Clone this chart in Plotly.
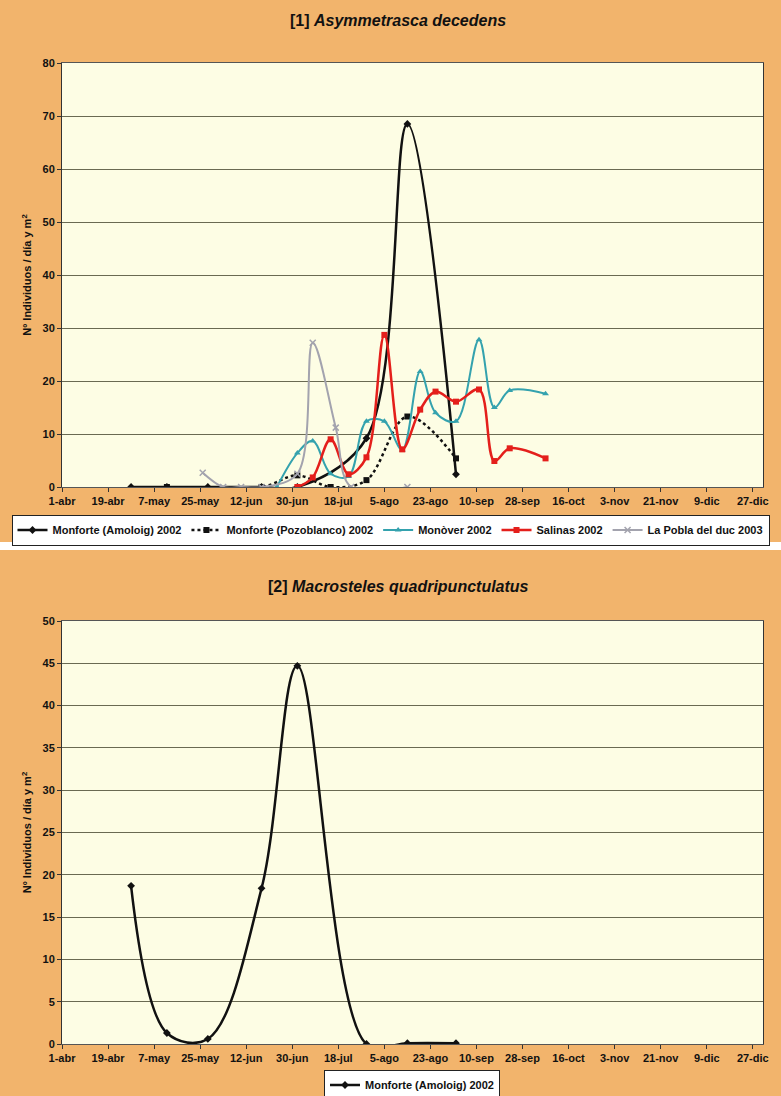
import plotly.graph_objects as go

# ---------------- data ----------------
tick_dates = ["2002-04-01", "2002-04-19", "2002-05-07", "2002-05-25", "2002-06-12", "2002-06-30",
              "2002-07-18", "2002-08-05", "2002-08-23", "2002-09-10", "2002-09-28", "2002-10-16",
              "2002-11-03", "2002-11-21", "2002-12-09", "2002-12-27"]
tick_labels = ["1-abr", "19-abr", "7-may", "25-may", "12-jun", "30-jun", "18-jul", "5-ago",
               "23-ago", "10-sep", "28-sep", "16-oct", "3-nov", "21-nov", "9-dic", "27-dic"]

# Panel 1: Asymmetrasca decedens
amoloig_dates = ["2002-04-28", "2002-05-12", "2002-05-28", "2002-06-18", "2002-07-02",
                 "2002-07-29", "2002-08-14", "2002-09-02"]
amoloig_asym = [0, 0, 0, 0, 0, 9.2, 68.5, 2.4]

pozo_dates = ["2002-05-12", "2002-06-18", "2002-07-02", "2002-07-15", "2002-07-29",
              "2002-08-14", "2002-09-02"]
pozo_asym = [0, 0, 2.2, 0, 1.3, 13.3, 5.4]

monover_dates = ["2002-06-24", "2002-07-02", "2002-07-08", "2002-07-15", "2002-07-22",
                 "2002-07-29", "2002-08-05", "2002-08-12", "2002-08-19", "2002-08-25",
                 "2002-09-02", "2002-09-11", "2002-09-17", "2002-09-23", "2002-10-07"]
monover_asym = [0, 6.4, 8.7, 2.5, 2.0, 12.4, 12.4, 7.0, 21.8, 14.0, 12.4, 27.8, 15.0, 18.2, 17.6]

salinas_dates = ["2002-07-02", "2002-07-08", "2002-07-15", "2002-07-22", "2002-07-29",
                 "2002-08-05", "2002-08-12", "2002-08-19", "2002-08-25", "2002-09-02",
                 "2002-09-11", "2002-09-17", "2002-09-23", "2002-10-07"]
salinas_asym = [0, 1.8, 9.0, 2.4, 5.6, 28.7, 7.1, 14.6, 18.0, 16.1, 18.4, 4.9, 7.3, 5.4]

pobla_dates = ["2002-05-26", "2002-06-03", "2002-06-10", "2002-06-18", "2002-07-02",
               "2002-07-08", "2002-07-17", "2002-07-23", "2002-08-14"]
pobla_asym = [2.7, 0, 0, 0, 2.5, 27.2, 11.2, 0, 0]

# Panel 2: Macrosteles quadripunctulatus
amoloig_macro = [18.7, 1.3, 0.6, 18.4, 44.7, 0, 0.1, 0.1]

# ---------------- style ----------------
ORANGE = "#F2B46C"
PLOT_BG = "#FDFDE4"
GRID = "#6A6A52"
FONT = "Liberation Sans"

fig = go.Figure()

def add(x, y, name, color, symbol, width, dash="solid", xa="x", ya="y", legend="legend", msize=6):
    fig.add_trace(go.Scatter(
        x=x, y=y, name=name, mode="lines+markers",
        line=dict(color=color, width=width, dash=dash, shape="spline", smoothing=1.0),
        marker=dict(color=color, symbol=symbol, size=msize,
                    line=dict(color=color, width=1.5 if "x" in symbol else 0)),
        xaxis=xa, yaxis=ya, legend=legend, cliponaxis=True))

add(amoloig_dates, amoloig_asym, "Monforte (Amoloig) 2002", "#111111", "diamond", 2.5)
add(pozo_dates, pozo_asym, "Monforte (Pozoblanco) 2002", "#111111", "square", 2.5, dash="dot")
add(monover_dates, monover_asym, "Monòver 2002", "#34A2AE", "triangle-up", 2)
add(salinas_dates, salinas_asym, "Salinas 2002", "#E41F1B", "square", 2.5)
add(pobla_dates, pobla_asym, "La Pobla del duc 2003", "#A3A3AE", "x-thin", 2)

add(amoloig_dates, amoloig_macro, "Monforte (Amoloig) 2002", "#111111", "diamond", 2.5,
    xa="x2", ya="y2", legend="legend2")

W, H = 781, 1096
xdom = [62 / W, 763 / W]
top_dom = [1 - 487 / H, 1 - 63 / H]
bot_dom = [1 - 1044 / H, 1 - 621 / H]

TICKF = dict(family=FONT, size=11, color="#111", weight="bold")
LEGF = dict(family=FONT, size=11, color="#111", weight="bold")

xcommon = dict(type="date", range=["2002-04-01", "2002-12-31"], tickmode="array",
               tickvals=tick_dates, ticktext=tick_labels, showgrid=False,
               ticks="outside", ticklen=4, tickcolor="#333", showline=True,
               linecolor="#555", linewidth=1, mirror=True, automargin=False,
               tickfont=TICKF, domain=xdom, zeroline=False)
ycommon = dict(showgrid=True, gridcolor=GRID, gridwidth=1, ticks="outside", ticklen=4,
               tickcolor="#333", showline=True, linecolor="#333", linewidth=1, mirror=True,
               tickfont=TICKF, zeroline=False, automargin=False,
               title=dict(text="Nº Individuos / día y m<sup>2</sup>", font=TICKF, standoff=8))

fig.update_layout(
    width=W, height=H, margin=dict(l=0, r=0, t=0, b=0, autoexpand=False),
    paper_bgcolor=ORANGE, plot_bgcolor=PLOT_BG,
    font=dict(family=FONT, size=11, color="#111"),
    xaxis=dict(**xcommon, anchor="y"),
    yaxis=dict(**ycommon, range=[0, 80], dtick=10, domain=top_dom, anchor="x"),
    xaxis2=dict(**xcommon, anchor="y2"),
    yaxis2=dict(**ycommon, range=[0, 50], dtick=5, domain=bot_dom, anchor="x2"),
    legend=dict(orientation="h", x=0.5, xanchor="center", y=1 - 530 / H, yanchor="middle",
                bgcolor="white", bordercolor="#222", borderwidth=1,
                font=LEGF, itemwidth=30, tracegroupgap=0),
    legend2=dict(orientation="h", x=412 / W, xanchor="center", y=1 - 1085 / H, yanchor="middle",
                 bgcolor="white", bordercolor="#222", borderwidth=1,
                 font=LEGF, itemwidth=30),
    showlegend=True,
)

# white gap between the two panels
fig.add_shape(type="rect", xref="paper", yref="paper", x0=0, x1=1,
              y0=1 - 550 / H, y1=1 - 542 / H, fillcolor="white", line=dict(width=0), layer="below")

fig.add_annotation(text="<b>[1] <i>Asymmetrasca decedens</i></b>", xref="paper", yref="paper",
                   x=0.51, y=1 - 20 / H, yanchor="middle", showarrow=False,
                   font=dict(family=FONT, size=16, color="#111"))
fig.add_annotation(text="<b>[2] <i>Macrosteles quadripunctulatus</i></b>", xref="paper", yref="paper",
                   x=0.51, y=1 - 586 / H, yanchor="middle", showarrow=False,
                   font=dict(family=FONT, size=16, color="#111"))

fig.write_html("out.html", post_script="document.body.style.margin='0px';",
               config={"displayModeBar": False})
